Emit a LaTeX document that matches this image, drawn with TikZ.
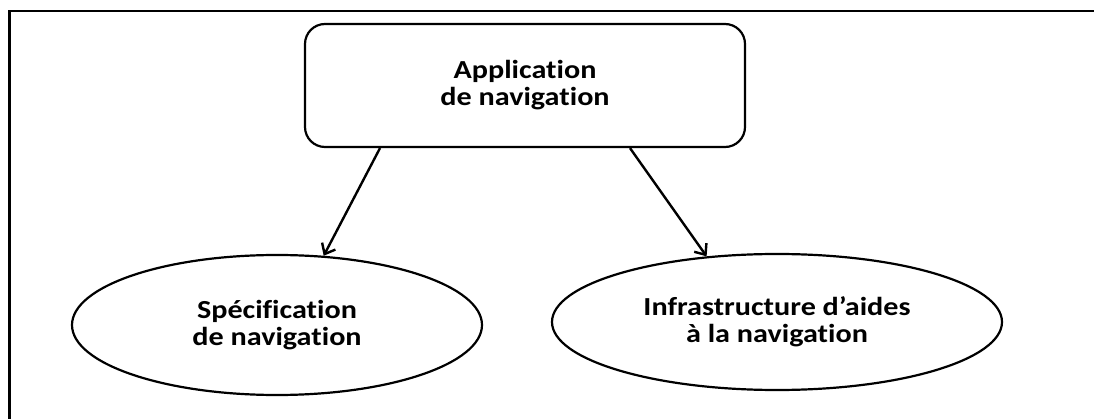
\documentclass[tikz,border=0pt]{standalone}
\usepackage{fontspec}
\setmainfont{Carlito}[Ligatures=NoCommon, FakeStretch=1.16]
\usetikzlibrary{shapes.geometric,arrows.meta}
\begin{document}
\begin{tikzpicture}[x=1pt,y=-1pt,
  lbl/.style={font=\bfseries\fontsize{26}{27}\selectfont, align=center, text=black},
  topbox/.style={draw, line width=2.2pt, rounded corners=20pt, minimum width=440pt, minimum height=123pt, lbl},
  ell/.style={draw, ellipse, line width=2.2pt, lbl, inner sep=0pt},
  arr/.style={line width=2.4pt, -{Straight Barb[length=9pt,width=15pt,line width=2.4pt]}},
  frame/.style={line width=2.2pt}]
\useasboundingbox (0,0) rectangle (1094,419);
\fill[white] (0,0) rectangle (1094,419);
\draw[frame] (9.5,419) -- (9.5,11) -- (1094,11);
\node[topbox] (top) at (525,85.5) {Application\\de navigation};
\node[ell, minimum width=410pt, minimum height=140pt] (left) at (277,325) {Spécification\\de navigation};
\node[ell, minimum width=450pt, minimum height=136pt] (right) at (777,322) {Infrastructure d’aides\\à la navigation};
\draw[arr] ([xshift=-145pt]top.south) -- (left.56);
\draw[arr] ([xshift=105pt]top.south) -- (right.137);
\end{tikzpicture}
\end{document}
